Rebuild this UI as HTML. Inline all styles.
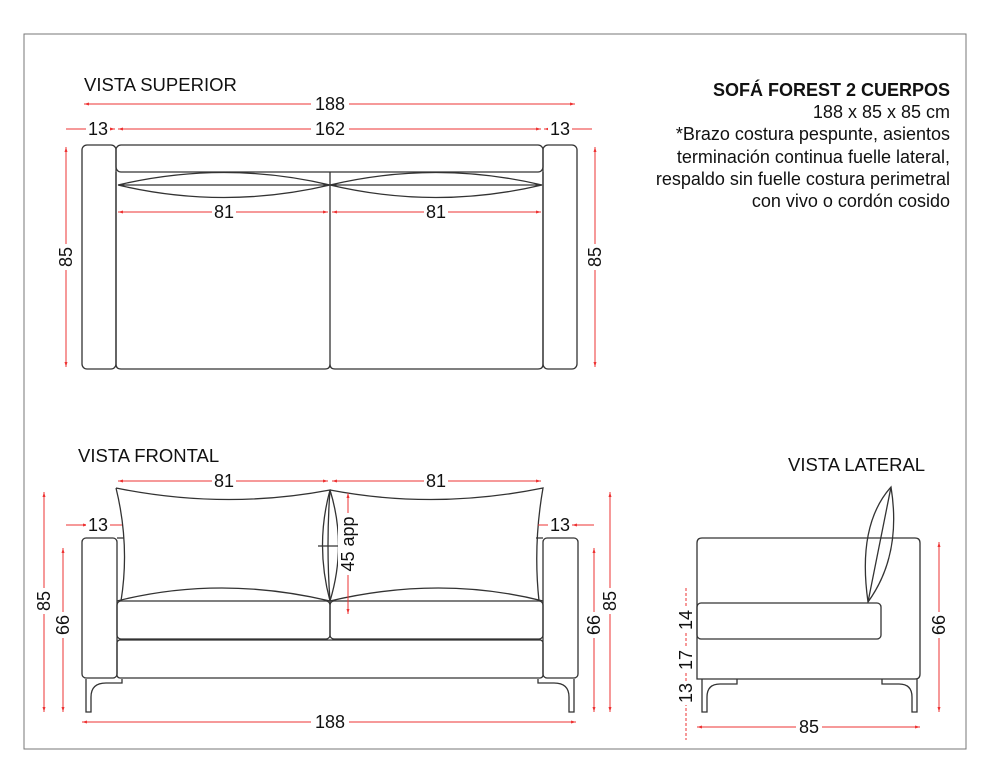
<!DOCTYPE html>
<html><head><style>
body{margin:0;background:#fff}
svg{display:block}
text{font-family:"Liberation Sans",sans-serif;fill:#111}
.o{fill:none;stroke:#333;stroke-width:1.3}
.d{stroke:#e33;stroke-width:1;fill:none}
</style></head><body>
<svg width="990" height="784" viewBox="0 0 990 784">
<defs>
<marker id="m" viewBox="0 0 10 10" refX="10" refY="5" markerWidth="7" markerHeight="5" orient="auto-start-reverse"><path d="M0,2 L10,5 L0,8z" fill="#e33"/></marker>
</defs>
<rect x="24" y="34" width="942" height="715" fill="none" stroke="#777" stroke-width="1"/>

<text x="84" y="91" font-size="18.5">VISTA SUPERIOR</text>
<text x="78" y="462" font-size="18.5">VISTA FRONTAL</text>
<text x="788" y="471" font-size="18.5">VISTA LATERAL</text>
<g font-size="18" text-anchor="end">
<text x="950" y="96" font-weight="bold">SOFÁ FOREST 2 CUERPOS</text>
<text x="950" y="118">188 x 85 x 85 cm</text>
<text x="950" y="140">*Brazo costura pespunte, asientos</text>
<text x="950" y="163">terminación continua fuelle lateral,</text>
<text x="950" y="185">respaldo sin fuelle costura perimetral</text>
<text x="950" y="207">con vivo o cordón cosido</text>
</g>

<!-- TOP VIEW -->
<rect class="o" x="82" y="145" width="34" height="224" rx="5"/>
<rect class="o" x="543" y="145" width="34" height="224" rx="5"/>
<rect class="o" x="116" y="145" width="427" height="27" rx="5"/>
<path class="o" d="M116,172 V364 Q116,369 121,369 H325 Q330,369 330,364 V172 M330,364 Q330,369 335,369 H538 Q543,369 543,364 V172"/>
<path class="o" d="M118,185 H542 M118,185 Q224,160 330,185 Q224,210 118,185 M330,185 Q436,160 542,185 Q436,210 330,185"/>
<g class="d">
<line x1="84" y1="104" x2="575" y2="104" marker-start="url(#m)" marker-end="url(#m)"/>
<line x1="66" y1="129" x2="115" y2="129" marker-end="url(#m)"/>
<line x1="118" y1="129" x2="541" y2="129" marker-start="url(#m)" marker-end="url(#m)"/>
<line x1="544" y1="129" x2="592" y2="129" marker-start="url(#m)"/>
<line x1="118" y1="212" x2="328" y2="212" marker-start="url(#m)" marker-end="url(#m)"/>
<line x1="332" y1="212" x2="541" y2="212" marker-start="url(#m)" marker-end="url(#m)"/>
<line x1="66" y1="147" x2="66" y2="367" marker-start="url(#m)" marker-end="url(#m)"/>
<line x1="595" y1="147" x2="595" y2="367" marker-start="url(#m)" marker-end="url(#m)"/>
</g>
<g font-size="18" text-anchor="middle">
<rect x="311" y="94" width="38" height="20" fill="#fff"/><text x="330" y="110">188</text>
<rect x="311" y="119" width="38" height="20" fill="#fff"/><text x="330" y="135">162</text>
<rect x="86" y="119" width="24" height="20" fill="#fff"/><text x="98" y="135">13</text>
<rect x="548" y="119" width="24" height="20" fill="#fff"/><text x="560" y="135">13</text>
<rect x="212" y="202" width="24" height="20" fill="#fff"/><text x="224" y="218">81</text>
<rect x="424" y="202" width="24" height="20" fill="#fff"/><text x="436" y="218">81</text>
<rect x="56" y="244" width="20" height="26" fill="#fff"/><text transform="translate(72,257) rotate(-90)">85</text>
<rect x="585" y="244" width="20" height="26" fill="#fff"/><text transform="translate(601,257) rotate(-90)">85</text>
</g>

<!-- FRONT VIEW -->
<rect class="o" x="82" y="538" width="35" height="140" rx="4"/>
<rect class="o" x="543" y="538" width="35" height="140" rx="4"/>
<path class="o" d="M117,538 H124 M536,538 H543"/>
<rect class="o" x="117" y="601" width="213" height="38" rx="4"/>
<rect class="o" x="330" y="601" width="213" height="38" rx="4"/>
<rect class="o" x="117" y="640" width="426" height="38" rx="3"/>
<path class="o" d="M117,601 Q220,575 330,601 M330,601 Q440,575 543,601"/>
<path class="o" d="M116,488 Q225,510 330,490 Q326,545 330,601 M116,488 Q130,545 121,601"/>
<path class="o" d="M330,490 Q435,510 543,488 Q533,545 539,601"/>
<path class="o" d="M330,490 Q315,545 330,601 Q347,545 330,490 M318,546 H341"/>
<path class="o" d="M86,679 V712 H91 V697 Q91,683 106,683 H122 V679"/>
<path class="o" d="M574,679 V712 H569 V697 Q569,683 554,683 H538 V679"/>
<g class="d">
<line x1="118" y1="481" x2="328" y2="481" marker-start="url(#m)" marker-end="url(#m)"/>
<line x1="332" y1="481" x2="541" y2="481" marker-start="url(#m)" marker-end="url(#m)"/>
<line x1="66" y1="525" x2="122" y2="525"/><line x1="66" y1="525" x2="88" y2="525" marker-end="url(#m)"/>
<line x1="538" y1="525" x2="594" y2="525"/><line x1="572" y1="525" x2="594" y2="525" marker-start="url(#m)"/>
<line x1="348" y1="493" x2="348" y2="614" marker-start="url(#m)" marker-end="url(#m)"/>
<line x1="44" y1="492" x2="44" y2="712" marker-start="url(#m)" marker-end="url(#m)"/>
<line x1="63" y1="548" x2="63" y2="712" marker-start="url(#m)" marker-end="url(#m)"/>
<line x1="610" y1="492" x2="610" y2="712" marker-start="url(#m)" marker-end="url(#m)"/>
<line x1="594" y1="548" x2="594" y2="712" marker-start="url(#m)" marker-end="url(#m)"/>
<line x1="82" y1="722" x2="576" y2="722" marker-start="url(#m)" marker-end="url(#m)"/>
</g>
<g font-size="18" text-anchor="middle">
<rect x="212" y="471" width="24" height="20" fill="#fff"/><text x="224" y="487">81</text>
<rect x="424" y="471" width="24" height="20" fill="#fff"/><text x="436" y="487">81</text>
<rect x="86" y="515" width="24" height="20" fill="#fff"/><text x="98" y="531">13</text>
<rect x="548" y="515" width="24" height="20" fill="#fff"/><text x="560" y="531">13</text>
<rect x="338" y="513" width="20" height="62" fill="#fff"/><text transform="translate(354,544) rotate(-90)">45 app</text>
<rect x="34" y="588" width="20" height="26" fill="#fff"/><text transform="translate(50,601) rotate(-90)">85</text>
<rect x="53" y="612" width="20" height="26" fill="#fff"/><text transform="translate(69,625) rotate(-90)">66</text>
<rect x="600" y="588" width="20" height="26" fill="#fff"/><text transform="translate(616,601) rotate(-90)">85</text>
<rect x="584" y="612" width="20" height="26" fill="#fff"/><text transform="translate(600,625) rotate(-90)">66</text>
<rect x="311" y="712" width="38" height="20" fill="#fff"/><text x="330" y="728">188</text>
</g>

<!-- SIDE VIEW -->
<path class="o" d="M697,679 V543 Q697,538 702,538 H915 Q920,538 920,543 V674 Q920,679 915,679 Z"/>
<rect class="o" x="697" y="603" width="184" height="36" rx="4"/>
<path class="o" d="M891,487 Q857,525 868,602 Q902,555 891,487 Z M891,487 L868,602"/>
<path class="o" d="M702,679 V712 H707 V697 Q707,684 720,684 H737 V679"/>
<path class="o" d="M917,679 V712 H912 V697 Q912,684 899,684 H882 V679"/>
<g class="d">
<line x1="686" y1="588" x2="686" y2="740" stroke-dasharray="3,2"/>
<line x1="939" y1="542" x2="939" y2="712" marker-start="url(#m)" marker-end="url(#m)"/>
<line x1="697" y1="727" x2="920" y2="727" marker-start="url(#m)" marker-end="url(#m)"/>
</g>
<g font-size="18" text-anchor="middle">
<rect x="676" y="608" width="20" height="24" fill="#fff"/><text transform="translate(692,620) rotate(-90)">14</text>
<rect x="676" y="648" width="20" height="24" fill="#fff"/><text transform="translate(692,660) rotate(-90)">17</text>
<rect x="676" y="681" width="20" height="24" fill="#fff"/><text transform="translate(692,693) rotate(-90)">13</text>
<rect x="929" y="612" width="20" height="26" fill="#fff"/><text transform="translate(945,625) rotate(-90)">66</text>
<rect x="796" y="717" width="26" height="20" fill="#fff"/><text x="809" y="733">85</text>
</g>
</svg>
</body></html>
